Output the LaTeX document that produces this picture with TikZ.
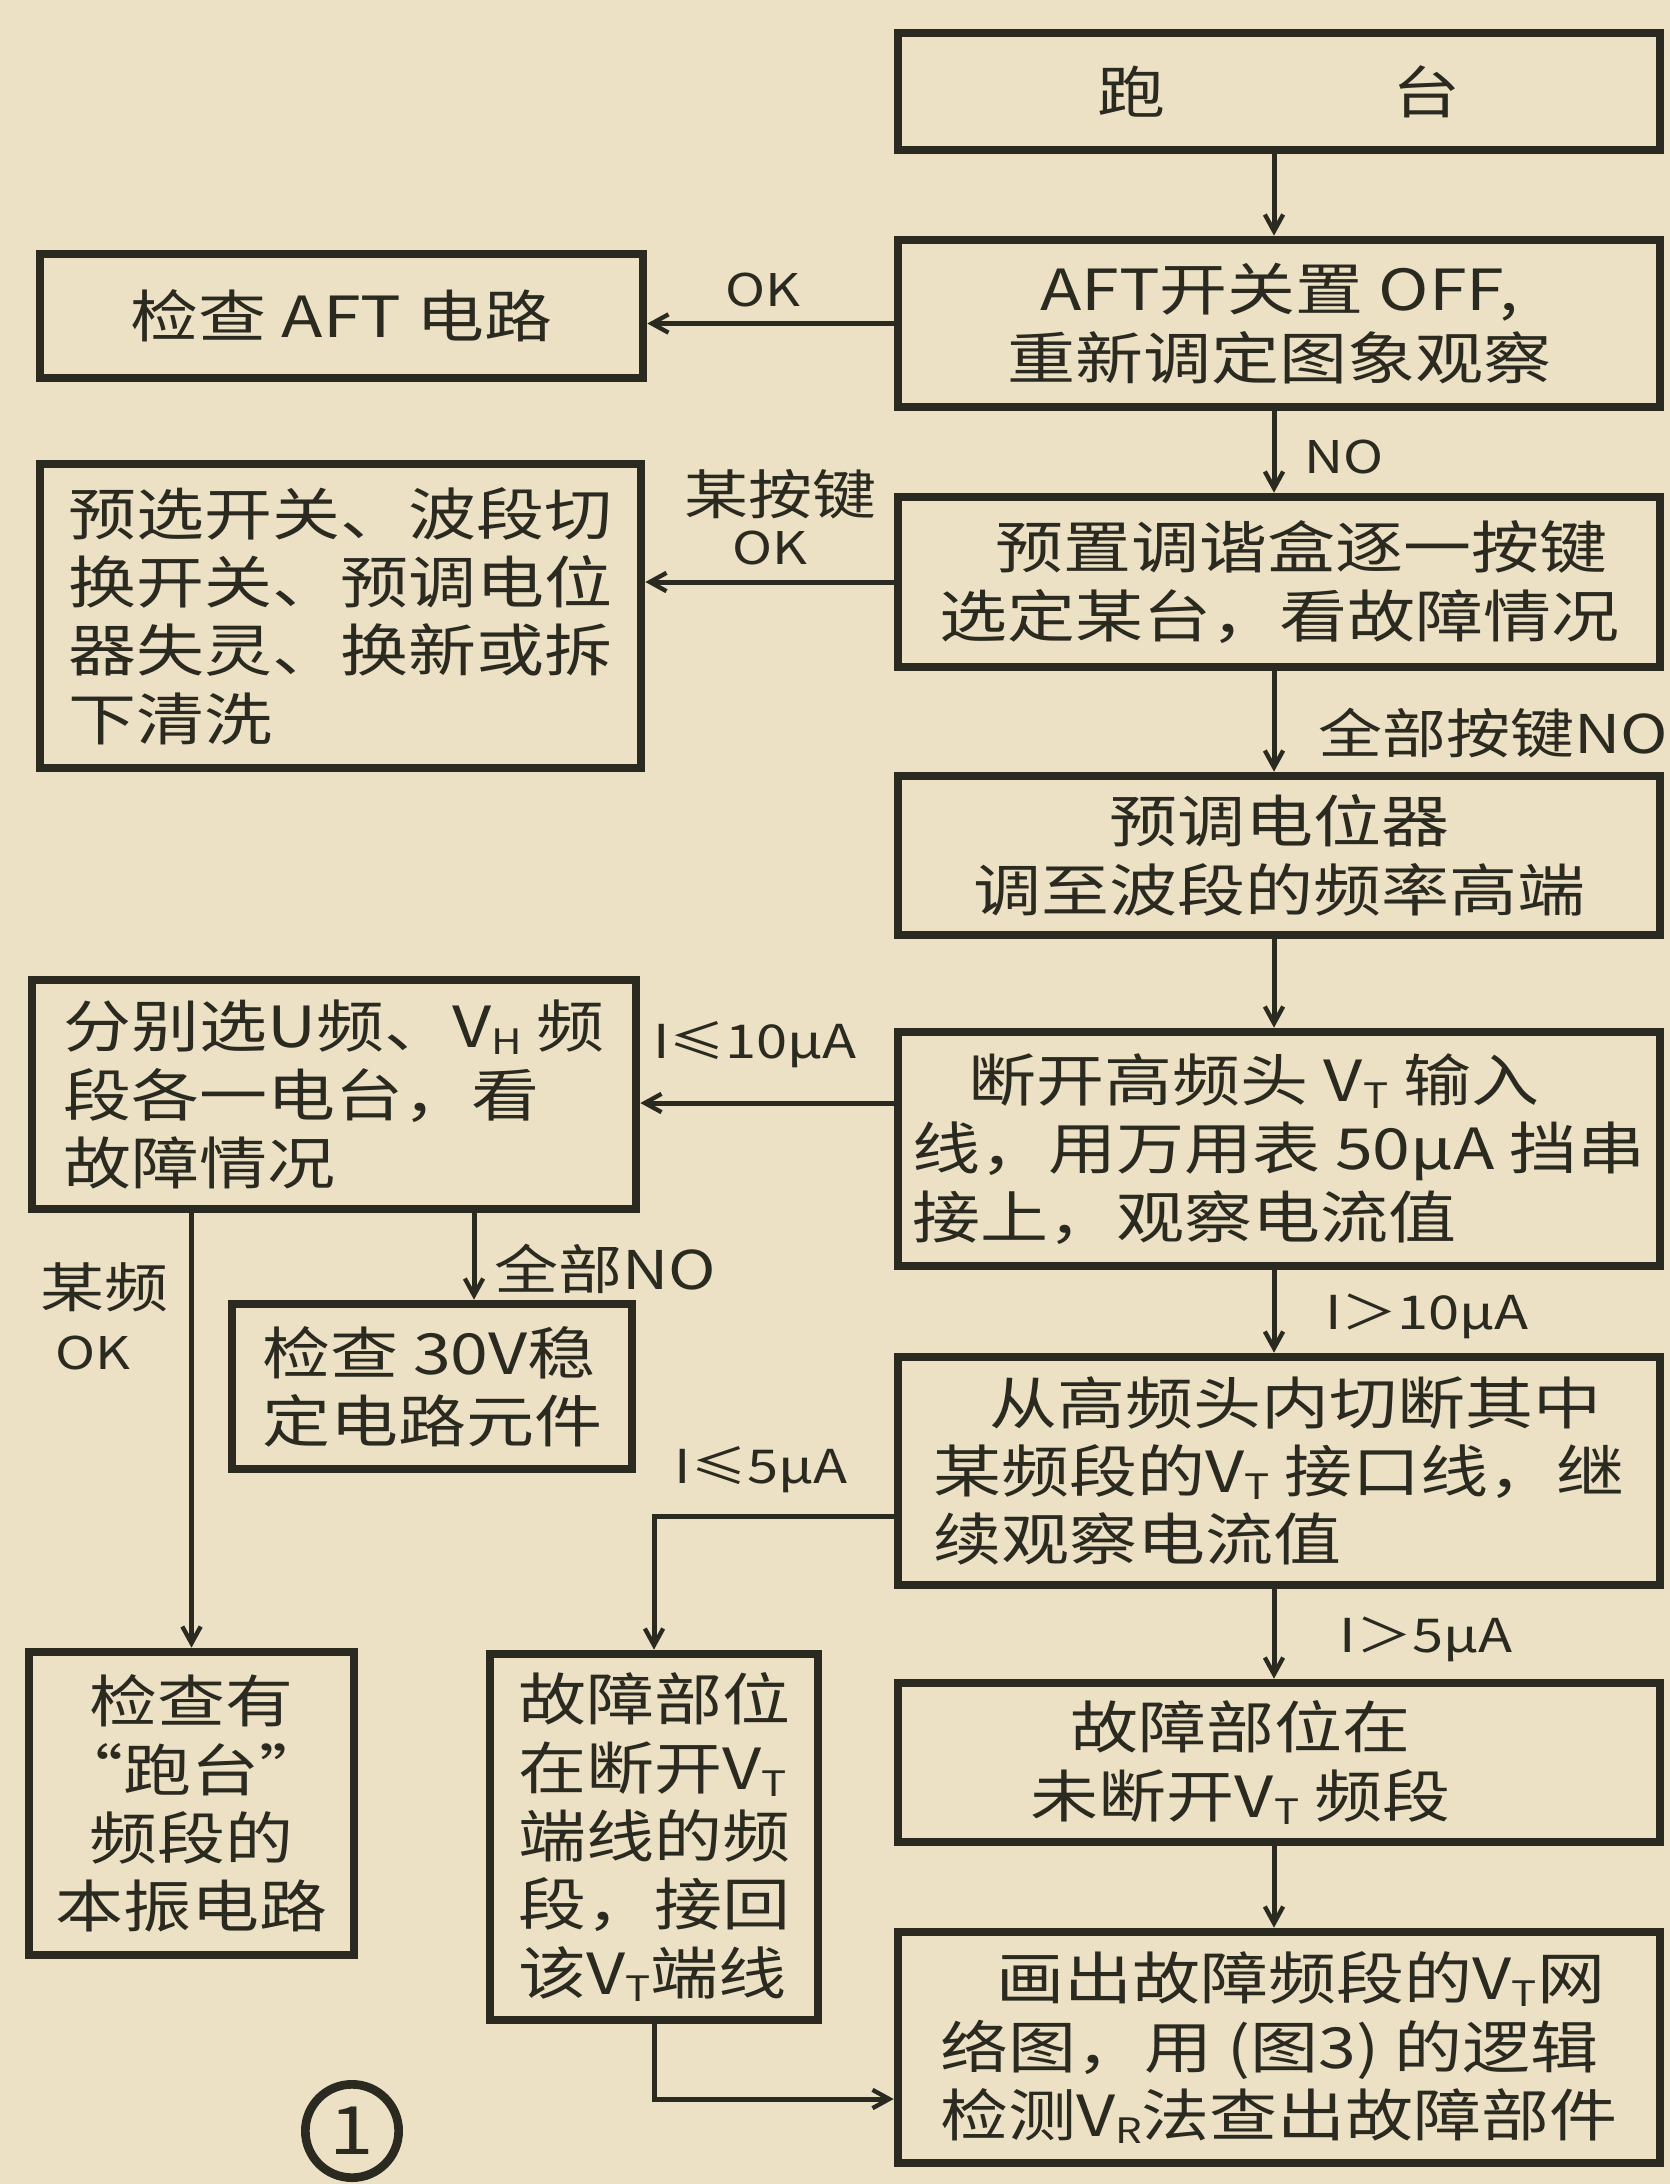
\documentclass[tikz,border=0pt]{standalone}
\usepackage{fontspec}
\setmainfont[FakeStretch=1.2]{Noto Sans CJK SC}
\usetikzlibrary{arrows.meta,calc}
\definecolor{paper}{RGB}{236,225,196}
\definecolor{ink}{RGB}{42,42,32}
\newcommand\lsub[1]{\raisebox{-0.12em}{\fontsize{10.5}{10.5}\selectfont #1}}
\newcommand\okfont{\fontsize{13.5}{13.5}\selectfont}
\begin{document}
\begin{tikzpicture}[x=0.3pt,y=-0.3pt,
  box/.style={draw=ink, line width=2.6pt, text=ink, inner sep=0pt, align=center, font=\fontsize{17}{20.5}\selectfont},
  lbox/.style={box, align=left},
  conn/.style={draw=ink, line width=1.5pt, -{Straight Barb[length=5pt,width=5.5pt,line width=1.3pt]}},
  lab/.style={text=ink, inner sep=0pt, font=\fontsize{16}{17}\selectfont, align=center},
  ilab/.style={lab, font=\fontsize{14}{15}\selectfont}]
\fill[paper] (0,0) rectangle (1670,2184);
\useasboundingbox (0,0) rectangle (1670,2184);

\node[box, minimum width=228.6pt, minimum height=35.1pt] (B1) at (1279,91.5) {跑\hspace{68pt}台};
\node[box, minimum width=228.6pt, minimum height=50.1pt] (B2) at (1279,323.5) {AFT开关置 OFF,\\重新调定图象观察};
\node[box, minimum width=180.9pt, minimum height=37.2pt] (B3) at (341.5,316) {检查 AFT 电路};
\node[lbox, minimum width=228.6pt, minimum height=51pt] (B4) at (1279,582) {\hspace{1em}预置调谐盒逐一按键\\选定某台，看故障情况};
\node[lbox, minimum width=180.3pt, minimum height=91.2pt] (B5) at (340.5,616) {预选开关、波段切\\换开关、预调电位\\器失灵、换新或拆\\下清洗};
\node[box, minimum width=228.6pt, minimum height=47.7pt] (B6) at (1279,855.5) {预调电位器\\调至波段的频率高端};
\node[lbox, minimum width=228.6pt, minimum height=70.2pt] (B7) at (1279,1149) {\hspace{1em}断开高频头 V\lsub{T} 输入\\线，用万用表 50μA 挡串\\接上，观察电流值};
\node[lbox, minimum width=181.2pt, minimum height=68.7pt] (B8) at (334,1094.5) {分别选U频、V\lsub{H} 频\\段各一电台，看\\故障情况};
\node[lbox, minimum width=120pt, minimum height=49.5pt] (B9) at (432,1386.5) {检查 30V稳\\定电路元件};
\node[lbox, minimum width=228.6pt, minimum height=68.4pt] (B10) at (1279,1471) {\hspace{1em}从高频头内切断其中\\某频段的V\lsub{T} 接口线，继\\续观察电流值};
\node[box, minimum width=97.5pt, minimum height=90.9pt] (B11) at (191.5,1803.5) {检查有\\“跑台”\\频段的\\本振电路};
\node[lbox, minimum width=98.4pt, minimum height=109.8pt] (B12) at (654,1837) {故障部位\\在断开V\lsub{T}\\端线的频\\段，接回\\该V\lsub{T}端线};
\node[box, minimum width=228.6pt, minimum height=47.7pt] (B13) at (1279,1762.5) {故障部位在\rule{23pt}{0pt}\\未断开V\lsub{T} 频段\rule{23pt}{0pt}};
\node[lbox, minimum width=228.6pt, minimum height=69.3pt] (B14) at (1279,2047.5) {\hspace{1em}画出故障频段的V\lsub{T}网\\络图，用 (图3) 的逻辑\\检测V\lsub{R}法查出故障部件};

\coordinate (tr) at (1274,0);
\coordinate (y78) at (0,1103);
\coordinate (x89) at (474,0);
\coordinate (y1012) at (0,1516);
\coordinate (y1214) at (0,2099);

\draw[conn] (B1.south -| tr) -- (B2.north -| tr);
\draw[conn] (B2.west) -- (B3.east |- B2.west);
\draw[conn] (B2.south -| tr) -- (B4.north -| tr);
\draw[conn] (B4.west) -- (B5.east |- B4.west);
\draw[conn] (B4.south -| tr) -- (B6.north -| tr);
\draw[conn] (B6.south -| tr) -- (B7.north -| tr);
\draw[conn] (B7.west |- y78) -- (B8.east |- y78);
\draw[conn] (B7.south -| tr) -- (B10.north -| tr);
\draw[conn] (B8.south -| x89) -- (B9.north -| x89);
\draw[conn] (B8.south -| B11.north) -- (B11.north);
\draw[conn] (B10.west |- y1012) -| (B12.north);
\draw[conn] (B10.south -| tr) -- (B13.north -| tr);
\draw[conn] (B13.south -| tr) -- (B14.north -| tr);
\draw[conn] (B12.south) |- (B14.west |- y1214);

\node[lab, font=\okfont] (lOK) at (763,290) {OK};
\node[lab, font=\okfont] (lNO) at (1344,457) {NO};
\node[lab] (lKey) at (780,494) {某按键};
\node[lab, font=\okfont] (lKeyOK) at (770,548) {OK};
\node[lab, anchor=west] (lAllKey) at (1318,733) {全部按键NO};
\node[ilab] (lI10a) at (755,1045) {I≤10μA};
\node[lab] (lAllNO) at (605,1269) {全部NO};
\node[lab] (lSome) at (104,1287) {某频};
\node[lab, font=\okfont] (lSomeOK) at (93,1353) {OK};
\node[ilab] (lI10b) at (1427,1316) {I＞10μA};
\node[ilab] (lI5a) at (761,1470) {I≤5μA};
\node[ilab] (lI5b) at (1426,1639) {I＞5μA};
\node[draw=ink, circle, line width=2.6pt, minimum size=28pt, inner sep=0pt, text=ink, font=\fontsize{20}{20}\selectfont] (fig) at (352,2131) {1};
\end{tikzpicture}
\end{document}
